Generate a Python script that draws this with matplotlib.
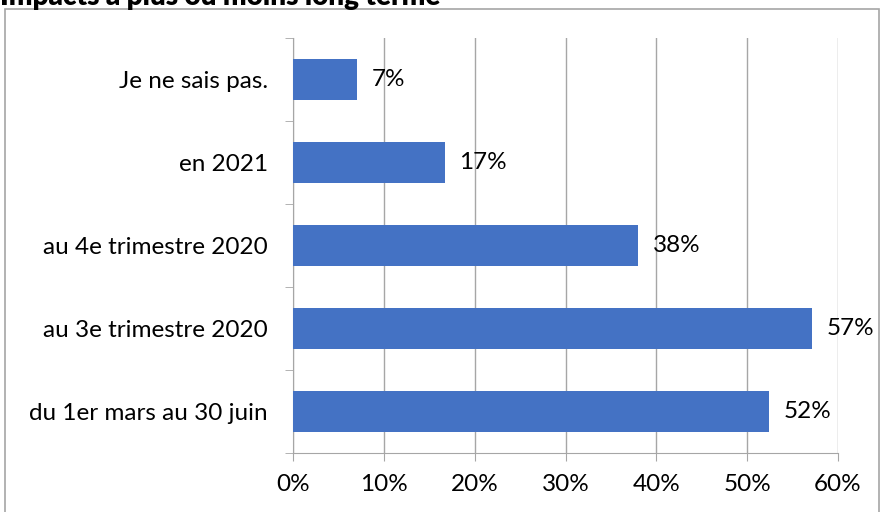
import matplotlib
matplotlib.use("Agg")
import matplotlib.pyplot as plt
from matplotlib.patches import Rectangle
from matplotlib.ticker import FixedLocator

# data (bottom to top)
categories = ["du 1er mars au 30 juin", "au 3e trimestre 2020",
              "au 4e trimestre 2020", "en 2021", "Je ne sais pas."]
values = [52.4, 57.1, 38.0, 16.7, 7.1]
labels = ["52%", "57%", "38%", "17%", "7%"]
xticks = [0, 10, 20, 30, 40, 50, 60]
title = "Impacts à plus ou moins long terme"

plt.rcParams['font.family'] = ['Lato', 'DejaVu Sans']

W, H = 880, 512
fig = plt.figure(figsize=(W / 100, H / 100), dpi=100)
ax = fig.add_axes([293 / W, 1 - 453 / H, (838 - 293) / W, (453 - 38) / H])

grid_col = "#a6a6a6"
bar_col = "#4472c4"
fs = 17.5

y = range(len(categories))
ax.barh(y, values, height=0.5, color=bar_col, zorder=3)
for yi, v, lab in zip(y, values, labels):
    ax.text(v + 1.6, yi, lab, va="center", ha="left", fontsize=fs, zorder=4)

ax.set_xlim(0, 60)
ax.set_ylim(-0.5, len(categories) - 0.5)
ax.set_xticks(xticks)
ax.set_xticklabels([f"{t}%" for t in xticks], fontsize=fs)
ax.set_yticks(list(y))
ax.set_yticklabels(categories, fontsize=fs)
ax.yaxis.set_minor_locator(FixedLocator([i - 0.5 for i in range(len(categories) + 1)]))
ax.tick_params(axis="y", which="major", length=0, pad=18)
ax.tick_params(axis="y", which="minor", length=6, color=grid_col, direction="out")
ax.tick_params(axis="x", length=6, color=grid_col, direction="out", pad=9)
ax.grid(axis="x", color=grid_col, linewidth=1, zorder=0)
for s in ["top", "right"]:
    ax.spines[s].set_visible(False)
for s in ["left", "bottom"]:
    ax.spines[s].set_color(grid_col)

# outer chart frame
fig.patches.append(Rectangle((5 / W, -0.01), (874) / W, 1 - 9 / H + 0.01,
                             transform=fig.transFigure, fill=False,
                             edgecolor=grid_col, linewidth=1.2))
# title, partly cut off by the top edge as in the reference
fig.text(0.0, 1 - 5 / H, title, fontsize=20, fontweight="heavy",
         ha="left", va="baseline")

fig.savefig("out.png", dpi=100)
